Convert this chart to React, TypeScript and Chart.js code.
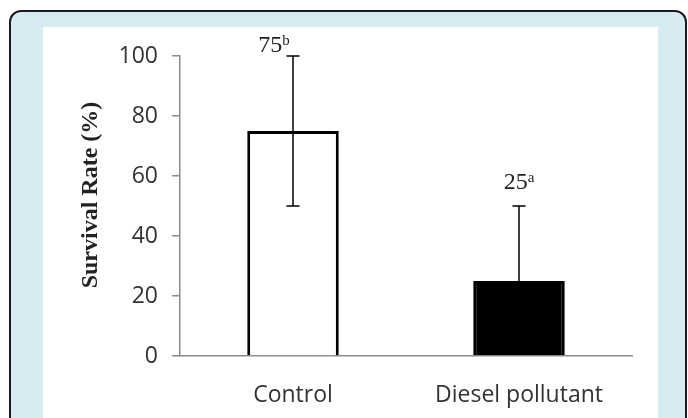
import React, { useEffect, useRef } from "react";
import { Chart, registerables } from "chart.js";

Chart.register(...registerables);

// ---- data ----
const categories = ["Control", "Diesel pollutant"];
const survivalRate = [75, 25];
const errorLow = [50, 0];
const errorHigh = [100, 50];
const valueLabels = ["75", "25"];
const superscripts = ["b", "a"];
const yTicks = [0, 20, 40, 60, 80, 100];
const yTitle = "Survival Rate (%)";

// ---- style constants ----
const AXIS_COLOR = "#8c8c8c";
const TEXT_COLOR = "#333333";
const SANS = '"Open Sans", "Noto Sans", sans-serif';
const SERIF = '"Liberation Serif", "DejaVu Serif", serif';
const labelDx = [-19, 0];
const labelGap = [4, 17];

const errorBarPlugin = {
  id: "errorBars",
  afterDatasetsDraw(chart: any) {
    const ctx = chart.ctx;
    const meta = chart.getDatasetMeta(0);
    const yScale = chart.scales.y;
    const area = chart.chartArea;
    ctx.save();
    ctx.beginPath();
    ctx.rect(area.left, area.top - 2, area.right - area.left, area.bottom - area.top + 1);
    ctx.clip();
    ctx.strokeStyle = "#000";
    ctx.lineWidth = 1.5;
    const cap = 6.5;
    meta.data.forEach((el: any, i: number) => {
      const x = el.x;
      const yl = yScale.getPixelForValue(errorLow[i]);
      const yh = yScale.getPixelForValue(errorHigh[i]);
      ctx.beginPath();
      ctx.moveTo(x, yl);
      ctx.lineTo(x, yh);
      ctx.moveTo(x - cap, yh);
      ctx.lineTo(x + cap, yh);
      if (errorLow[i] > 0) {
        ctx.moveTo(x - cap, yl);
        ctx.lineTo(x + cap, yl);
      }
      ctx.stroke();
    });
    ctx.restore();

    ctx.save();
    // value labels with superscript letters
    meta.data.forEach((el: any, i: number) => {
      const yh = yScale.getPixelForValue(errorHigh[i]);
      const mainFont = `24px ${SERIF}`;
      const supFont = `15px ${SERIF}`;
      ctx.font = mainFont;
      const w1 = ctx.measureText(valueLabels[i]).width;
      ctx.font = supFont;
      const w2 = ctx.measureText(superscripts[i]).width;
      const total = w1 + w2;
      const x0 = el.x + labelDx[i] - total / 2;
      const baseY = yh - labelGap[i];
      ctx.fillStyle = "#222";
      ctx.textAlign = "left";
      ctx.textBaseline = "alphabetic";
      ctx.font = mainFont;
      ctx.fillText(valueLabels[i], x0, baseY);
      ctx.font = supFont;
      ctx.fillText(superscripts[i], x0 + w1, baseY - 7);
    });
    // y axis title
    ctx.translate(91, 195);
    ctx.rotate(-Math.PI / 2);
    ctx.font = `bold 24px ${SERIF}`;
    ctx.fillStyle = "#222";
    ctx.textAlign = "center";
    ctx.textBaseline = "middle";
    ctx.fillText(yTitle, 0, 0);
    ctx.restore();
  },
};

export default function App() {
  const canvasRef = useRef<HTMLCanvasElement | null>(null);

  useEffect(() => {
    if (!canvasRef.current) return;
    const chart = new Chart(canvasRef.current, {
      type: "bar",
      data: {
        labels: categories,
        datasets: [
          {
            data: survivalRate,
            backgroundColor: ["#ffffff", "#000000"],
            borderColor: "#000000",
            borderWidth: 3,
            borderSkipped: "start",
            categoryPercentage: 1,
            barPercentage: 0.405,
          },
        ],
      },
      options: {
        animation: false,
        responsive: false,
        maintainAspectRatio: false,
        devicePixelRatio: 1,
        layout: { padding: { left: 0, top: 56, right: 56, bottom: 0 } },
        plugins: {
          legend: { display: false },
          tooltip: { enabled: false },
        },
        scales: {
          x: {
            grid: { display: false },
            border: { display: true, color: AXIS_COLOR, width: 1.5 },
            ticks: {
              color: TEXT_COLOR,
              font: { family: SANS, size: 23 },
              padding: 18,
              maxRotation: 0,
            },
            afterFit: (s: any) => {
              s.height = 62;
            },
          },
          y: {
            min: 0,
            max: 100,
            grid: {
              display: true,
              drawOnChartArea: false,
              drawTicks: true,
              tickLength: 8,
              color: AXIS_COLOR,
              lineWidth: 1.5,
            },
            border: { display: true, color: AXIS_COLOR, width: 1.5 },
            ticks: {
              color: TEXT_COLOR,
              font: { family: SANS, size: 23 },
              padding: 14,
            },
            afterBuildTicks: (s: any) => {
              s.ticks = yTicks.map((v) => ({ value: v }));
            },
            afterFit: (s: any) => {
              s.width = 180;
            },
          },
        },
      },
      plugins: [errorBarPlugin],
    });
    return () => chart.destroy();
  }, []);

  return (
    <div
      style={{
        position: "absolute",
        left: 0,
        top: 0,
        width: 688,
        height: 418,
        overflow: "hidden",
        background: "#ffffff",
      }}
    >
      <div
        style={{
          position: "absolute",
          left: 9,
          top: 10,
          width: 678,
          height: 440,
          boxSizing: "border-box",
          border: "2px solid #1a1a1a",
          borderRadius: 12,
          background: "#d6ebf1",
        }}
      />
      <div
        style={{
          position: "absolute",
          left: 43,
          top: 27,
          width: 615,
          height: 400,
          background: "#ffffff",
        }}
      />
      <canvas
        ref={canvasRef}
        width={688}
        height={418}
        style={{ position: "absolute", left: 0, top: 0, width: 688, height: 418 }}
      />
    </div>
  );
}
